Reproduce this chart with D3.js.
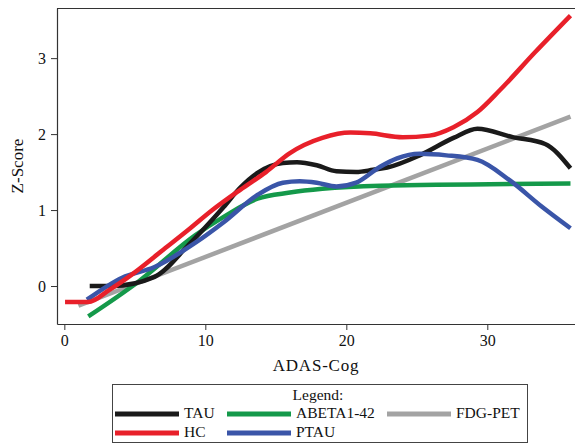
<!DOCTYPE html>
<html>
<head>
<meta charset="utf-8">
<script src="https://cdn.jsdelivr.net/npm/d3@7"></script>
<style>
  body { margin: 0; background: #fff; }
  svg { display: block; font-family: "Liberation Serif", "DejaVu Serif", serif; }
</style>
</head>
<body>
<svg id="chart"></svg>
<script>
const width = 575;
const height = 444;
const margin = {top: 8, right: 0, bottom: 120, left: 57};

// values: [ADAS-Cog, Z-Score]
const tau = [[1.8, 0], [3.4, 0], [6.4, 0.12], [8.8, 0.54], [11.3, 1.04], [12.5, 1.3], [13.7, 1.49],
  [15.5, 1.62], [16.5, 1.63], [17.9, 1.59], [19.3, 1.51], [20.7, 1.5], [21.9, 1.53], [22.9, 1.56],
  [25.2, 1.72], [27.6, 1.95], [29.3, 2.07], [31.8, 1.96], [34.1, 1.87], [35.9, 1.55]];
const hc = [[0.05, -0.21], [1.7, -0.21], [3.2, -0.05], [5.0, 0.18], [6.9, 0.46], [8.8, 0.74],
  [10.5, 1.0], [12.5, 1.27], [14.3, 1.5], [16.0, 1.75], [18.3, 1.95], [20.3, 2.02], [21.7, 2.01],
  [24.0, 1.96], [25.9, 1.98], [27.6, 2.09], [29.3, 2.29], [30.9, 2.58], [33.4, 3.08], [35.9, 3.56]];
const abeta = [[1.7, -0.4], [5.2, 0.05], [9.3, 0.67], [11.3, 0.91], [13.7, 1.15], [16.0, 1.23],
  [18.3, 1.28], [22.4, 1.32], [35.9, 1.35]];
const fdg = [[1.0, -0.26], [35.9, 2.23]];
const ptau = [[1.6, -0.18], [4.1, 0.11], [6.4, 0.25], [9.3, 0.57], [11.3, 0.84], [13.7, 1.2],
  [15.5, 1.36], [16.7, 1.38], [17.9, 1.36], [19.3, 1.31], [20.7, 1.36], [22.4, 1.57], [23.6, 1.68],
  [25.2, 1.74], [27.1, 1.72], [29.3, 1.66], [31.6, 1.39], [33.9, 1.04], [35.9, 0.76]];

const xTicks = [0, 10, 20, 30];
const yTicks = [0, 1, 2, 3];

const series = [
  {name: "TAU", color: "#1a1a1a", values: tau},
  {name: "ABETA1-42", color: "#14994a", values: abeta},
  {name: "FDG-PET", color: "#a3a3a3", values: fdg},
  {name: "HC", color: "#e8202a", values: hc},
  {name: "PTAU", color: "#3a55a8", values: ptau},
];
// drawing order (red on top of black etc.)
const drawOrder = ["FDG-PET", "ABETA1-42", "TAU", "PTAU", "HC"];

const svg = d3.select("#chart").attr("width", width).attr("height", height);

const plotBottom = height - margin.bottom;

const x = d3.scaleLinear().domain([-0.52, 36.22]).range([margin.left, width - margin.right]);
const y = d3.scaleLinear().domain([-0.5, 3.66]).range([plotBottom, margin.top]);

// top frame line
svg.append("line")
  .attr("x1", margin.left).attr("x2", width)
  .attr("y1", margin.top + 0.5).attr("y2", margin.top + 0.5)
  .attr("stroke", "#333").attr("stroke-width", 1.2);

const line = d3.line()
  .x((d) => x(d[0]))
  .y((d) => y(d[1]))
  .curve(d3.curveMonotoneX);

svg.append("g")
  .selectAll("path")
  .data(drawOrder.map((n) => series.find((s) => s.name === n)))
  .enter()
  .append("path")
  .attr("d", (d) => line(d.values))
  .attr("fill", "none")
  .attr("stroke", (d) => d.color)
  .attr("stroke-width", 4.5)
  .attr("stroke-linejoin", "round");

const xAxis = svg.append("g")
  .attr("transform", `translate(0,${plotBottom})`)
  .call(d3.axisBottom(x).tickValues(xTicks).tickFormat(d3.format("d"))
    .tickSize(6).tickPadding(5).tickSizeOuter(0));

const yAxis = svg.append("g")
  .attr("transform", `translate(${margin.left},0)`)
  .call(d3.axisLeft(y).tickValues(yTicks).tickFormat(d3.format("d"))
    .tickSize(6).tickPadding(5).tickSizeOuter(0));

[xAxis, yAxis].forEach((g) => {
  g.select(".domain").attr("stroke", "#333").attr("stroke-width", 1.2);
  g.selectAll(".tick line").attr("stroke", "#333");
  g.selectAll(".tick text")
    .attr("fill", "#111")
    .attr("font-size", "16px")
    .attr("font-family", "Liberation Serif, serif");
});

svg.append("text")
  .attr("x", (margin.left + width) / 2)
  .attr("y", 371)
  .attr("text-anchor", "middle")
  .attr("font-size", "17px")
  .attr("letter-spacing", "0.8px")
  .attr("fill", "#111")
  .text("ADAS-Cog");

svg.append("text")
  .attr("transform", `translate(23,${(margin.top + plotBottom) / 2}) rotate(-90)`)
  .attr("text-anchor", "middle")
  .attr("font-size", "17px")
  .attr("fill", "#111")
  .text("Z-Score");

// Legend
const legend = svg.append("g");
legend.append("rect")
  .attr("x", 112.5).attr("y", 384.5)
  .attr("width", 415).attr("height", 58)
  .attr("fill", "none")
  .attr("stroke", "#444")
  .attr("stroke-width", 1);

legend.append("text")
  .attr("x", 318).attr("y", 400)
  .attr("text-anchor", "middle")
  .attr("font-size", "15.5px")
  .attr("fill", "#111")
  .text("Legend:");

const legendItems = [
  {name: "TAU", col: 0, row: 0},
  {name: "ABETA1-42", col: 1, row: 0},
  {name: "FDG-PET", col: 2, row: 0},
  {name: "HC", col: 0, row: 1},
  {name: "PTAU", col: 1, row: 1},
];
const colX = [115, 227, 387];
const rowY = [414, 433];

legendItems.forEach((it) => {
  const s = series.find((d) => d.name === it.name);
  legend.append("line")
    .attr("x1", colX[it.col]).attr("x2", colX[it.col] + 64)
    .attr("y1", rowY[it.row]).attr("y2", rowY[it.row])
    .attr("stroke", s.color)
    .attr("stroke-width", 5);
  legend.append("text")
    .attr("x", colX[it.col] + 69)
    .attr("y", rowY[it.row])
    .attr("dominant-baseline", "middle")
    .attr("font-size", "15.5px")
    .attr("fill", "#111")
    .text(it.name);
});
</script>
</body>
</html>
